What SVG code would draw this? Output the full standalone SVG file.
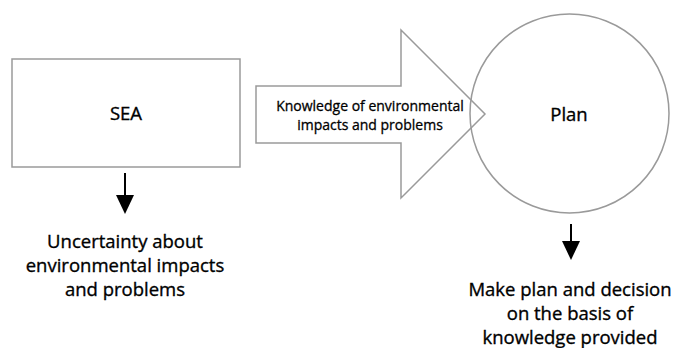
<svg xmlns="http://www.w3.org/2000/svg" width="676" height="348" viewBox="0 0 676 348">
<defs>
<style>
.shape{fill:none;stroke:#9a9a9a;stroke-width:1.5}
.t{font-family:"Open Sans","Liberation Sans",sans-serif;fill:#000;stroke:#000;stroke-width:0.35;text-anchor:middle}
.big{font-size:18.5px}
.small{font-size:14px;stroke-width:0.3}
.down{stroke:#000;stroke-width:2}
</style>
</defs>
<rect width="676" height="348" fill="#fff"/>
<g id="sea">
<rect class="shape" x="12" y="59" width="228" height="108"/>
<text class="t big" x="126" y="120">SEA</text>
</g>
<g id="knowledge">
<path class="shape" d="M256,86 H401 V30 L485,114 L401,198 V143 H256 Z"/>
<text class="t small" x="370" y="111">Knowledge of environmental</text>
<text class="t small" x="370" y="130">impacts and problems</text>
</g>
<g id="plan">
<circle class="shape" cx="569.5" cy="113.5" r="99.5"/>
<text class="t big" x="569" y="121">Plan</text>
</g>
<g id="uncertainty">
<text class="t big" x="125" y="248">Uncertainty about</text>
<text class="t big" x="125" y="272">environmental impacts</text>
<text class="t big" x="125" y="296">and problems</text>
</g>
<g id="decision">
<text class="t big" x="570" y="296">Make plan and decision</text>
<text class="t big" x="570" y="320">on the basis of</text>
<text class="t big" x="570" y="344">knowledge provided</text>
</g>
<g id="connectors">
<line class="down" x1="125" y1="173" x2="125" y2="205"/>
<path d="M116,195 L134,195 L125,214 Z" fill="#000"/>
<line class="down" x1="571" y1="224" x2="571" y2="250"/>
<path d="M562,241 L580,241 L571,260 Z" fill="#000"/>
</g>
</svg>
